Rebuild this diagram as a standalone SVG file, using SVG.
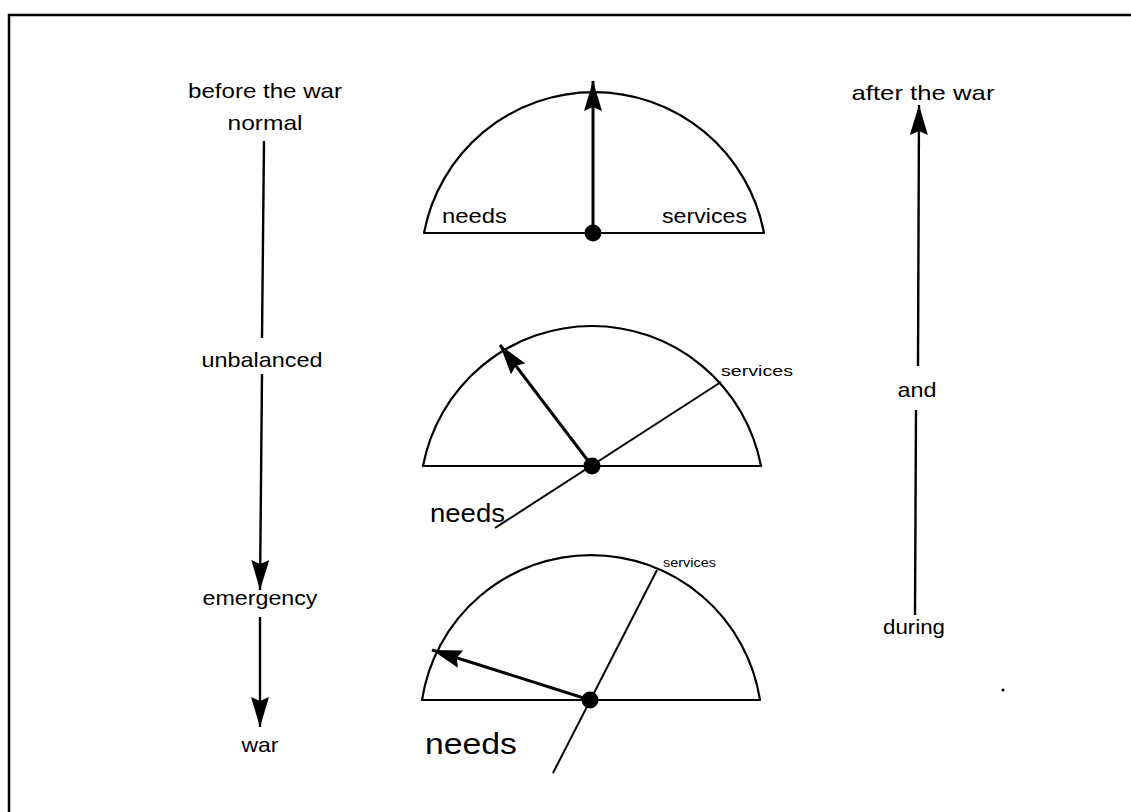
<svg xmlns="http://www.w3.org/2000/svg" width="1131" height="812" viewBox="0 0 1131 812">
  <style>
    text { font-family: "Liberation Sans", Arial, Helvetica, sans-serif; fill: #000; }
    .lbl { font-size: 21px; text-anchor: middle; lengthAdjust: spacingAndGlyphs; }
    .gauge { fill: none; stroke: #000; stroke-width: 2.2; stroke-linejoin: round; }
    .needle { stroke: #000; stroke-width: 3; fill: none; }
    .thin { stroke: #000; stroke-width: 2; fill: none; }
    .flow { stroke: #000; stroke-width: 2.4; fill: none; }
    .frame { stroke: #000; stroke-width: 2.5; fill: none; }
  </style>
  <defs>
    <marker id="ah" markerUnits="userSpaceOnUse" markerWidth="30" markerHeight="18" refX="30" refY="9" orient="auto">
      <path d="M0,0 L30,9 L0,18 L4,9 Z" fill="#000"/>
    </marker>
  </defs>
  <rect width="1131" height="812" fill="#fff"/>
  <path class="frame" d="M9,812 L9,15 L1131,15"/>

  <g id="connectors">
    <line class="flow" x1="264" y1="141" x2="262" y2="338"/>
    <line class="flow" x1="262" y1="374" x2="260" y2="590" marker-end="url(#ah)"/>
    <line class="flow" x1="260" y1="617" x2="260" y2="727" marker-end="url(#ah)"/>
    <line class="flow" x1="915" y1="615" x2="916" y2="410"/>
    <line class="flow" x1="918" y1="366" x2="919" y2="105" marker-end="url(#ah)"/>
  </g>

  <g id="label-before">
    <text x="265" y="98" font-size="21" text-anchor="middle" textLength="154" lengthAdjust="spacingAndGlyphs">before the war</text>
    <text x="265" y="130" font-size="21" text-anchor="middle" textLength="75" lengthAdjust="spacingAndGlyphs">normal</text>
  </g>
  <g id="label-unbalanced">
    <text x="262" y="367" font-size="21" text-anchor="middle" textLength="121" lengthAdjust="spacingAndGlyphs">unbalanced</text>
  </g>
  <g id="label-emergency">
    <text x="260" y="605" font-size="21" text-anchor="middle" textLength="115" lengthAdjust="spacingAndGlyphs">emergency</text>
  </g>
  <g id="label-war">
    <text x="260" y="752" font-size="21" text-anchor="middle" textLength="37" lengthAdjust="spacingAndGlyphs">war</text>
  </g>
  <g id="label-after">
    <text x="923" y="100" font-size="21" text-anchor="middle" textLength="143" lengthAdjust="spacingAndGlyphs">after the war</text>
  </g>
  <g id="label-and">
    <text x="917" y="397" font-size="21" text-anchor="middle" textLength="39" lengthAdjust="spacingAndGlyphs">and</text>
  </g>
  <g id="label-during">
    <text x="914" y="634" font-size="21" text-anchor="middle" textLength="62" lengthAdjust="spacingAndGlyphs">during</text>
  </g>

  <g id="gauge-normal">
    <path class="gauge" d="M424,233 A173,173 0 0 1 764,233 Z"/>
    <line class="needle" x1="593" y1="233" x2="593" y2="81" marker-end="url(#ah)"/>
    <circle cx="593" cy="233" r="8.5" fill="#000"/>
    <text x="442" y="223" font-size="21" textLength="65" lengthAdjust="spacingAndGlyphs">needs</text>
    <text x="662" y="223" font-size="21" textLength="85" lengthAdjust="spacingAndGlyphs">services</text>
  </g>

  <g id="gauge-unbalanced">
    <path class="gauge" d="M423,466 A172,172 0 0 1 761,466 Z"/>
    <line class="thin" x1="495" y1="528" x2="721" y2="382"/>
    <line class="needle" x1="592" y1="466" x2="500" y2="345" marker-end="url(#ah)"/>
    <circle cx="592" cy="466" r="8.5" fill="#000"/>
    <text x="721" y="376" font-size="15" textLength="72" lengthAdjust="spacingAndGlyphs">services</text>
    <text x="430" y="522" font-size="25" textLength="75" lengthAdjust="spacingAndGlyphs">needs</text>
  </g>

  <g id="gauge-war">
    <path class="gauge" d="M422,700 A171,171 0 0 1 760,700 Z"/>
    <line class="thin" x1="553" y1="773" x2="657" y2="570"/>
    <line class="needle" x1="590" y1="700" x2="432" y2="650" marker-end="url(#ah)"/>
    <circle cx="590" cy="700" r="8.5" fill="#000"/>
    <text x="663" y="567" font-size="12" textLength="53" lengthAdjust="spacingAndGlyphs">services</text>
    <text x="425" y="754" font-size="29" textLength="92" lengthAdjust="spacingAndGlyphs">needs</text>
  </g>

  <circle cx="1003" cy="690" r="1.5" fill="#000"/>
</svg>
